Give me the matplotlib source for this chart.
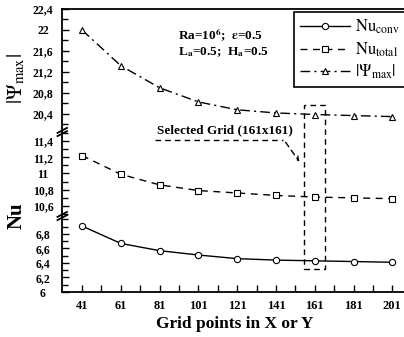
import matplotlib
matplotlib.use('Agg')
import matplotlib.pyplot as plt
from matplotlib.ticker import FixedLocator
import matplotlib.transforms as mtransforms
from matplotlib.lines import Line2D
from matplotlib.patches import Rectangle, FancyArrowPatch

# ---- data ----
grid = [41, 61, 81, 101, 121, 141, 161, 181, 201]
nu_conv = [6.91, 6.67, 6.57, 6.51, 6.46, 6.44, 6.43, 6.42, 6.41]
nu_total = [11.22, 10.99, 10.86, 10.79, 10.76, 10.73, 10.71, 10.70, 10.69]
psi_max = [22.0, 21.32, 20.90, 20.63, 20.48, 20.42, 20.39, 20.37, 20.35]

top_major = [20.4, 20.8, 21.2, 21.6, 22.0, 22.4]
mid_major = [10.6, 10.8, 11.0, 11.2, 11.4]
bot_major = [6.0, 6.2, 6.4, 6.6, 6.8]
selected = 161

plt.rcParams['font.family'] = ['Liberation Serif', 'DejaVu Serif']
plt.rcParams['font.weight'] = 'normal'
plt.rcParams['mathtext.fontset'] = 'stix'

W, H = 404, 337
fig = plt.figure(figsize=(W / 100, H / 100), dpi=100)


def fx(px):
    return px / W


def fy(py):
    return 1 - py / H


left = fx(62)
right = 1.0
ax_top = fig.add_axes([left, fy(132), right - left, (132 - 9) / H])
ax_mid = fig.add_axes([left, fy(216), right - left, (216 - 132) / H])
ax_bot = fig.add_axes([left, fy(292), right - left, (292 - 216) / H])


def fmt(v):
    s = f'{v:.1f}'
    if s.endswith('.0'):
        s = s[:-2]
    return s.replace('.', ',')


xlim = (30.7, 207)
for ax in (ax_top, ax_mid, ax_bot):
    ax.set_xlim(*xlim)
    ax.patch.set_alpha(0)
    ax.spines['right'].set_visible(False)
    for s in ax.spines.values():
        s.set_linewidth(1.3)
    ax.tick_params(axis='y', which='both', direction='in', labelsize=8.5, width=1, pad=13.7)
    ax.tick_params(axis='y', which='major', length=5)
    ax.tick_params(axis='y', which='minor', length=4)
    ax.tick_params(axis='x', which='both', direction='in', width=1, length=5,
                   labelsize=9, pad=6)

ax_top.spines['bottom'].set_visible(False)
ax_mid.spines['bottom'].set_visible(False)
ax_mid.spines['top'].set_visible(False)
ax_bot.spines['top'].set_visible(False)
for ax in (ax_top, ax_mid):
    ax.tick_params(axis='x', which='both', bottom=False, labelbottom=False)

ax_bot.set_xticks(grid, [str(g) for g in grid], fontweight='bold')
ax_bot.xaxis.set_minor_locator(FixedLocator([g + 10 for g in grid[:-1]]))

ax_top.set_ylim(20.057, 22.4)
ax_top.set_yticks(top_major, [fmt(v) for v in top_major], ha='center', fontweight='bold')
ax_top.yaxis.set_minor_locator(FixedLocator([v + 0.2 for v in top_major[:-1]] + [20.2]))

ax_mid.set_ylim(10.477, 11.51)
ax_mid.set_yticks(mid_major, [fmt(v) for v in mid_major], ha='center', fontweight='bold')
ax_mid.yaxis.set_minor_locator(FixedLocator([v - 0.1 for v in mid_major] + [11.5]))

ax_bot.set_ylim(6.0, 7.048)
ax_bot.set_yticks(bot_major, [fmt(v) for v in bot_major], ha='center', fontweight='bold')
ax_bot.yaxis.set_minor_locator(FixedLocator([v + 0.1 for v in bot_major] + [7.0]))

mk = dict(mfc='white', mec='black', ms=4.5, mew=0.8, color='black', lw=1)
l1, = ax_bot.plot(grid, nu_conv, '-', marker='o', **mk)
l2, = ax_mid.plot(grid, nu_total, marker='s', ls=(0, (5, 4)), **mk)
l3, = ax_top.plot(grid, psi_max, marker='^', ls=(0, (7, 3, 1.5, 3)), **mk)

leg = fig.legend([l1, l2, l3],
                 [r'$\mathrm{Nu_{conv}}$', r'$\mathrm{Nu_{total}}$', r'$|\Psi_{\mathrm{max}}|$'],
                 loc='upper left', bbox_to_anchor=(fx(294), fy(12)),
                 bbox_transform=fig.transFigure, frameon=True, fancybox=False,
                 edgecolor='black', framealpha=1, borderaxespad=0,
                 prop={'size': 12, 'weight': 'normal'},
                 handlelength=3.0, labelspacing=0.25, borderpad=0.35, handletextpad=0.3)
leg.get_frame().set_linewidth(1.2)

# parameter text
fig.text(fx(178), fy(35), r'Ra=10$^{\mathbf{6}}$;  $\mathbf{\varepsilon}$=0.5', fontsize=9.5,
         fontweight='bold', va='center', ha='left')
fig.text(fx(178), fy(52), r'L$_{\mathbf{a}}$=0.5;  H$_{\mathbf{a}}$=0.5', fontsize=9.5,
         fontweight='bold', va='center', ha='left')

# axis labels
fig.text(fx(16), fy(79), r'$|\Psi_{\mathrm{max}}|$', rotation=90, fontsize=15,
         va='center', ha='center')
fig.text(fx(17), fy(216), 'Nu', rotation=90, fontsize=15, fontweight='bold',
         ha='center', va='center')
fig.text(fx(235), fy(324), 'Grid points in X or Y', fontsize=12.5, fontweight='bold',
         ha='center', va='center')

# break marks on the left spine
for ypx in (132, 216):
    for off in (-1.6, 1.6):
        fig.add_artist(Line2D([fx(57.5), fx(67)], [fy(ypx + 2.5 + off), fy(ypx - 2.5 + off)],
                              transform=fig.transFigure, lw=1.3, color='black'))

# selected grid annotation
blend = mtransforms.blended_transform_factory(ax_bot.transData, fig.transFigure)
rect = Rectangle((selected - 5.8, fy(269)), 11, fy(105) - fy(269), transform=blend,
                 fill=False, ls=(0, (4, 3)), lw=1, ec='black', clip_on=False)
fig.add_artist(rect)

fig.text(fx(157), fy(130), 'Selected Grid (161x161)', fontsize=9.5, fontweight='bold',
         va='center', ha='left')
fig.add_artist(Line2D([fx(155), fx(283)], [fy(140), fy(140)], transform=fig.transFigure,
                      ls=(0, (4, 3)), lw=1, color='black'))
fig.add_artist(FancyArrowPatch(posA=(fx(284), fy(140)), posB=(fx(301), fy(164)),
                               transform=fig.transFigure, arrowstyle='->',
                               linestyle=(0, (4, 3)), mutation_scale=7, lw=1, color='black'))

fig.savefig('out.png', dpi=100)
